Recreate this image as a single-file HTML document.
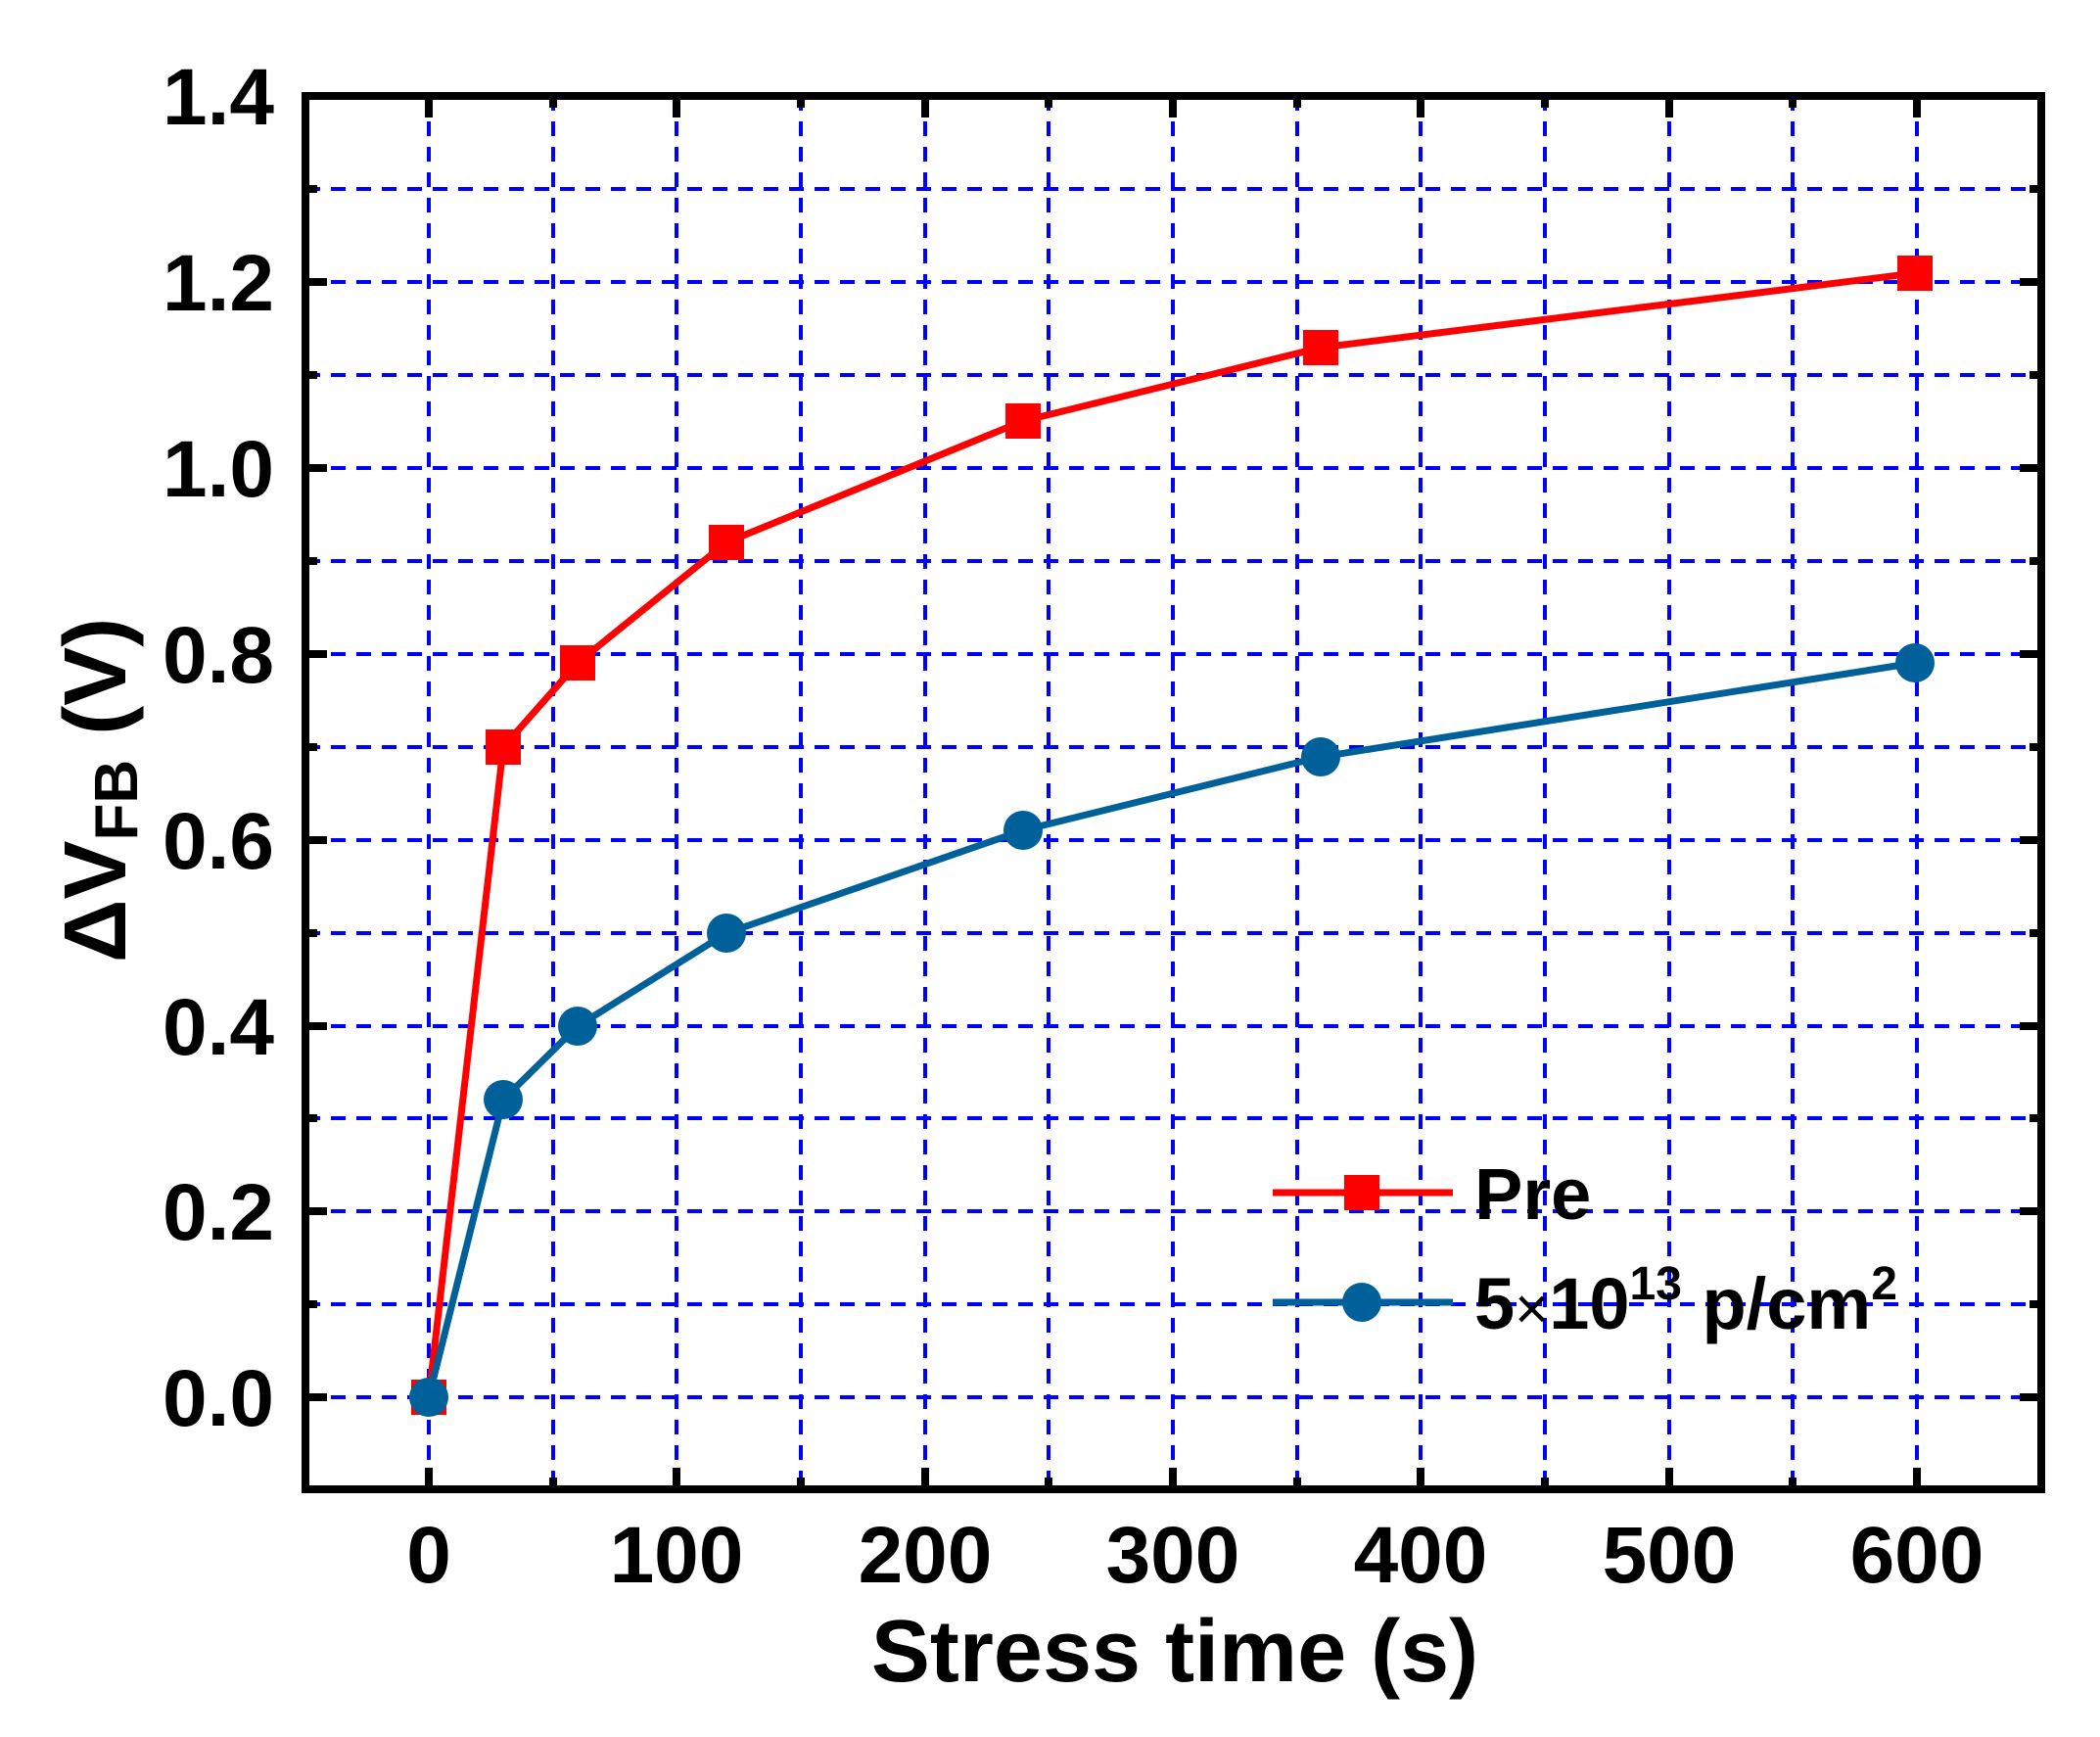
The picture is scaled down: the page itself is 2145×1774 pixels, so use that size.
<!DOCTYPE html>
<html><head><meta charset="utf-8"><style>
html,body{margin:0;padding:0;background:#fff;}
svg{display:block;}
text{font-family:"Liberation Sans",Arial,sans-serif;font-weight:bold;fill:#000;}
</style></head><body>
<svg width="2145" height="1774" viewBox="0 0 2145 1774" xmlns="http://www.w3.org/2000/svg">
<g stroke="#0000ff" stroke-width="4" stroke-dasharray="15,11" fill="none">
<line x1="312" y1="1427" x2="2085" y2="1427"/>
<line x1="312" y1="1332" x2="2085" y2="1332"/>
<line x1="312" y1="1237" x2="2085" y2="1237"/>
<line x1="312" y1="1142" x2="2085" y2="1142"/>
<line x1="312" y1="1048" x2="2085" y2="1048"/>
<line x1="312" y1="953" x2="2085" y2="953"/>
<line x1="312" y1="858" x2="2085" y2="858"/>
<line x1="312" y1="763" x2="2085" y2="763"/>
<line x1="312" y1="668" x2="2085" y2="668"/>
<line x1="312" y1="573" x2="2085" y2="573"/>
<line x1="312" y1="478" x2="2085" y2="478"/>
<line x1="312" y1="383" x2="2085" y2="383"/>
<line x1="312" y1="288" x2="2085" y2="288"/>
<line x1="312" y1="193" x2="2085" y2="193"/>
<line x1="438" y1="98" x2="438" y2="1521"/>
<line x1="565" y1="98" x2="565" y2="1521"/>
<line x1="691" y1="98" x2="691" y2="1521"/>
<line x1="818" y1="98" x2="818" y2="1521"/>
<line x1="945" y1="98" x2="945" y2="1521"/>
<line x1="1071" y1="98" x2="1071" y2="1521"/>
<line x1="1198" y1="98" x2="1198" y2="1521"/>
<line x1="1325" y1="98" x2="1325" y2="1521"/>
<line x1="1451" y1="98" x2="1451" y2="1521"/>
<line x1="1578" y1="98" x2="1578" y2="1521"/>
<line x1="1705" y1="98" x2="1705" y2="1521"/>
<line x1="1831" y1="98" x2="1831" y2="1521"/>
<line x1="1958" y1="98" x2="1958" y2="1521"/>
</g>
<g stroke="#000" stroke-width="8">
<path d="M438 1521v-22M691 1521v-22M945 1521v-22M1198 1521v-22M1451 1521v-22M1705 1521v-22M1958 1521v-22"/>
<path d="M565 1521v-12M818 1521v-12M1071 1521v-12M1325 1521v-12M1578 1521v-12M1831 1521v-12"/>
<path d="M438 98v22M691 98v22M945 98v22M1198 98v22M1451 98v22M1705 98v22M1958 98v22"/>
<path d="M565 98v12M818 98v12M1071 98v12M1325 98v12M1578 98v12M1831 98v12"/>
<path d="M312 1427h22M312 1237h22M312 1048h22M312 858h22M312 668h22M312 478h22M312 288h22"/>
<path d="M312 1332h12M312 1142h12M312 953h12M312 763h12M312 573h12M312 383h12M312 193h12"/>
<path d="M2085 1427h-22M2085 1237h-22M2085 1048h-22M2085 858h-22M2085 668h-22M2085 478h-22M2085 288h-22"/>
<path d="M2085 1332h-12M2085 1142h-12M2085 953h-12M2085 763h-12M2085 573h-12M2085 383h-12M2085 193h-12"/>
</g>
<rect x="312" y="98" width="1773" height="1423" fill="none" stroke="#000" stroke-width="8"/>
<polyline fill="none" stroke="#ff0000" stroke-width="7" points="438,1427 514,763 590,677 742,554 1045,430 1349,355 1956,279"/>
<g fill="#ff0000">
<rect x="420" y="1409" width="36" height="36"/>
<rect x="496" y="745" width="36" height="36"/>
<rect x="572" y="659" width="36" height="36"/>
<rect x="724" y="536" width="36" height="36"/>
<rect x="1027" y="412" width="36" height="36"/>
<rect x="1331" y="337" width="36" height="36"/>
<rect x="1938" y="261" width="36" height="36"/>
</g>
<polyline fill="none" stroke="#00609a" stroke-width="7" points="438,1427 514,1123 590,1048 742,953 1045,848 1349,773 1956,677"/>
<g fill="#00609a">
<circle cx="438" cy="1427" r="20"/>
<circle cx="514" cy="1123" r="20"/>
<circle cx="590" cy="1048" r="20"/>
<circle cx="742" cy="953" r="20"/>
<circle cx="1045" cy="848" r="20"/>
<circle cx="1349" cy="773" r="20"/>
<circle cx="1956" cy="677" r="20"/>
</g>
<line x1="1300" y1="1218" x2="1484" y2="1218" stroke="#ff0000" stroke-width="7"/>
<rect x="1373" y="1200" width="36" height="36" fill="#ff0000"/>
<text x="1506" y="1245" font-size="74">Pre</text>
<line x1="1300" y1="1330" x2="1484" y2="1330" stroke="#00609a" stroke-width="7"/>
<circle cx="1391" cy="1330" r="20" fill="#00609a"/>
<text x="1506" y="1357" font-size="74">5<tspan font-weight="normal" font-size="60">×</tspan>10<tspan dy="-30" font-size="48">13</tspan><tspan dy="30"> p/cm</tspan><tspan dy="-30" font-size="48">2</tspan></text>
<g font-size="82" text-anchor="end">
<text x="280" y="1456">0.0</text>
<text x="280" y="1266">0.2</text>
<text x="280" y="1077">0.4</text>
<text x="280" y="887">0.6</text>
<text x="280" y="697">0.8</text>
<text x="280" y="507">1.0</text>
<text x="280" y="317">1.2</text>
<text x="280" y="127">1.4</text>
</g>
<g font-size="82" text-anchor="middle">
<text x="438" y="1616">0</text>
<text x="691" y="1616">100</text>
<text x="945" y="1616">200</text>
<text x="1198" y="1616">300</text>
<text x="1451" y="1616">400</text>
<text x="1705" y="1616">500</text>
<text x="1958" y="1616">600</text>
</g>
<text x="1200" y="1717" font-size="90" text-anchor="middle">Stress time (s)</text>
<text transform="translate(128,807) rotate(-90)" font-size="90" text-anchor="middle">ΔV<tspan dy="12" font-size="62">FB</tspan><tspan dy="-12"> (V)</tspan></text>
</svg>
</body></html>
